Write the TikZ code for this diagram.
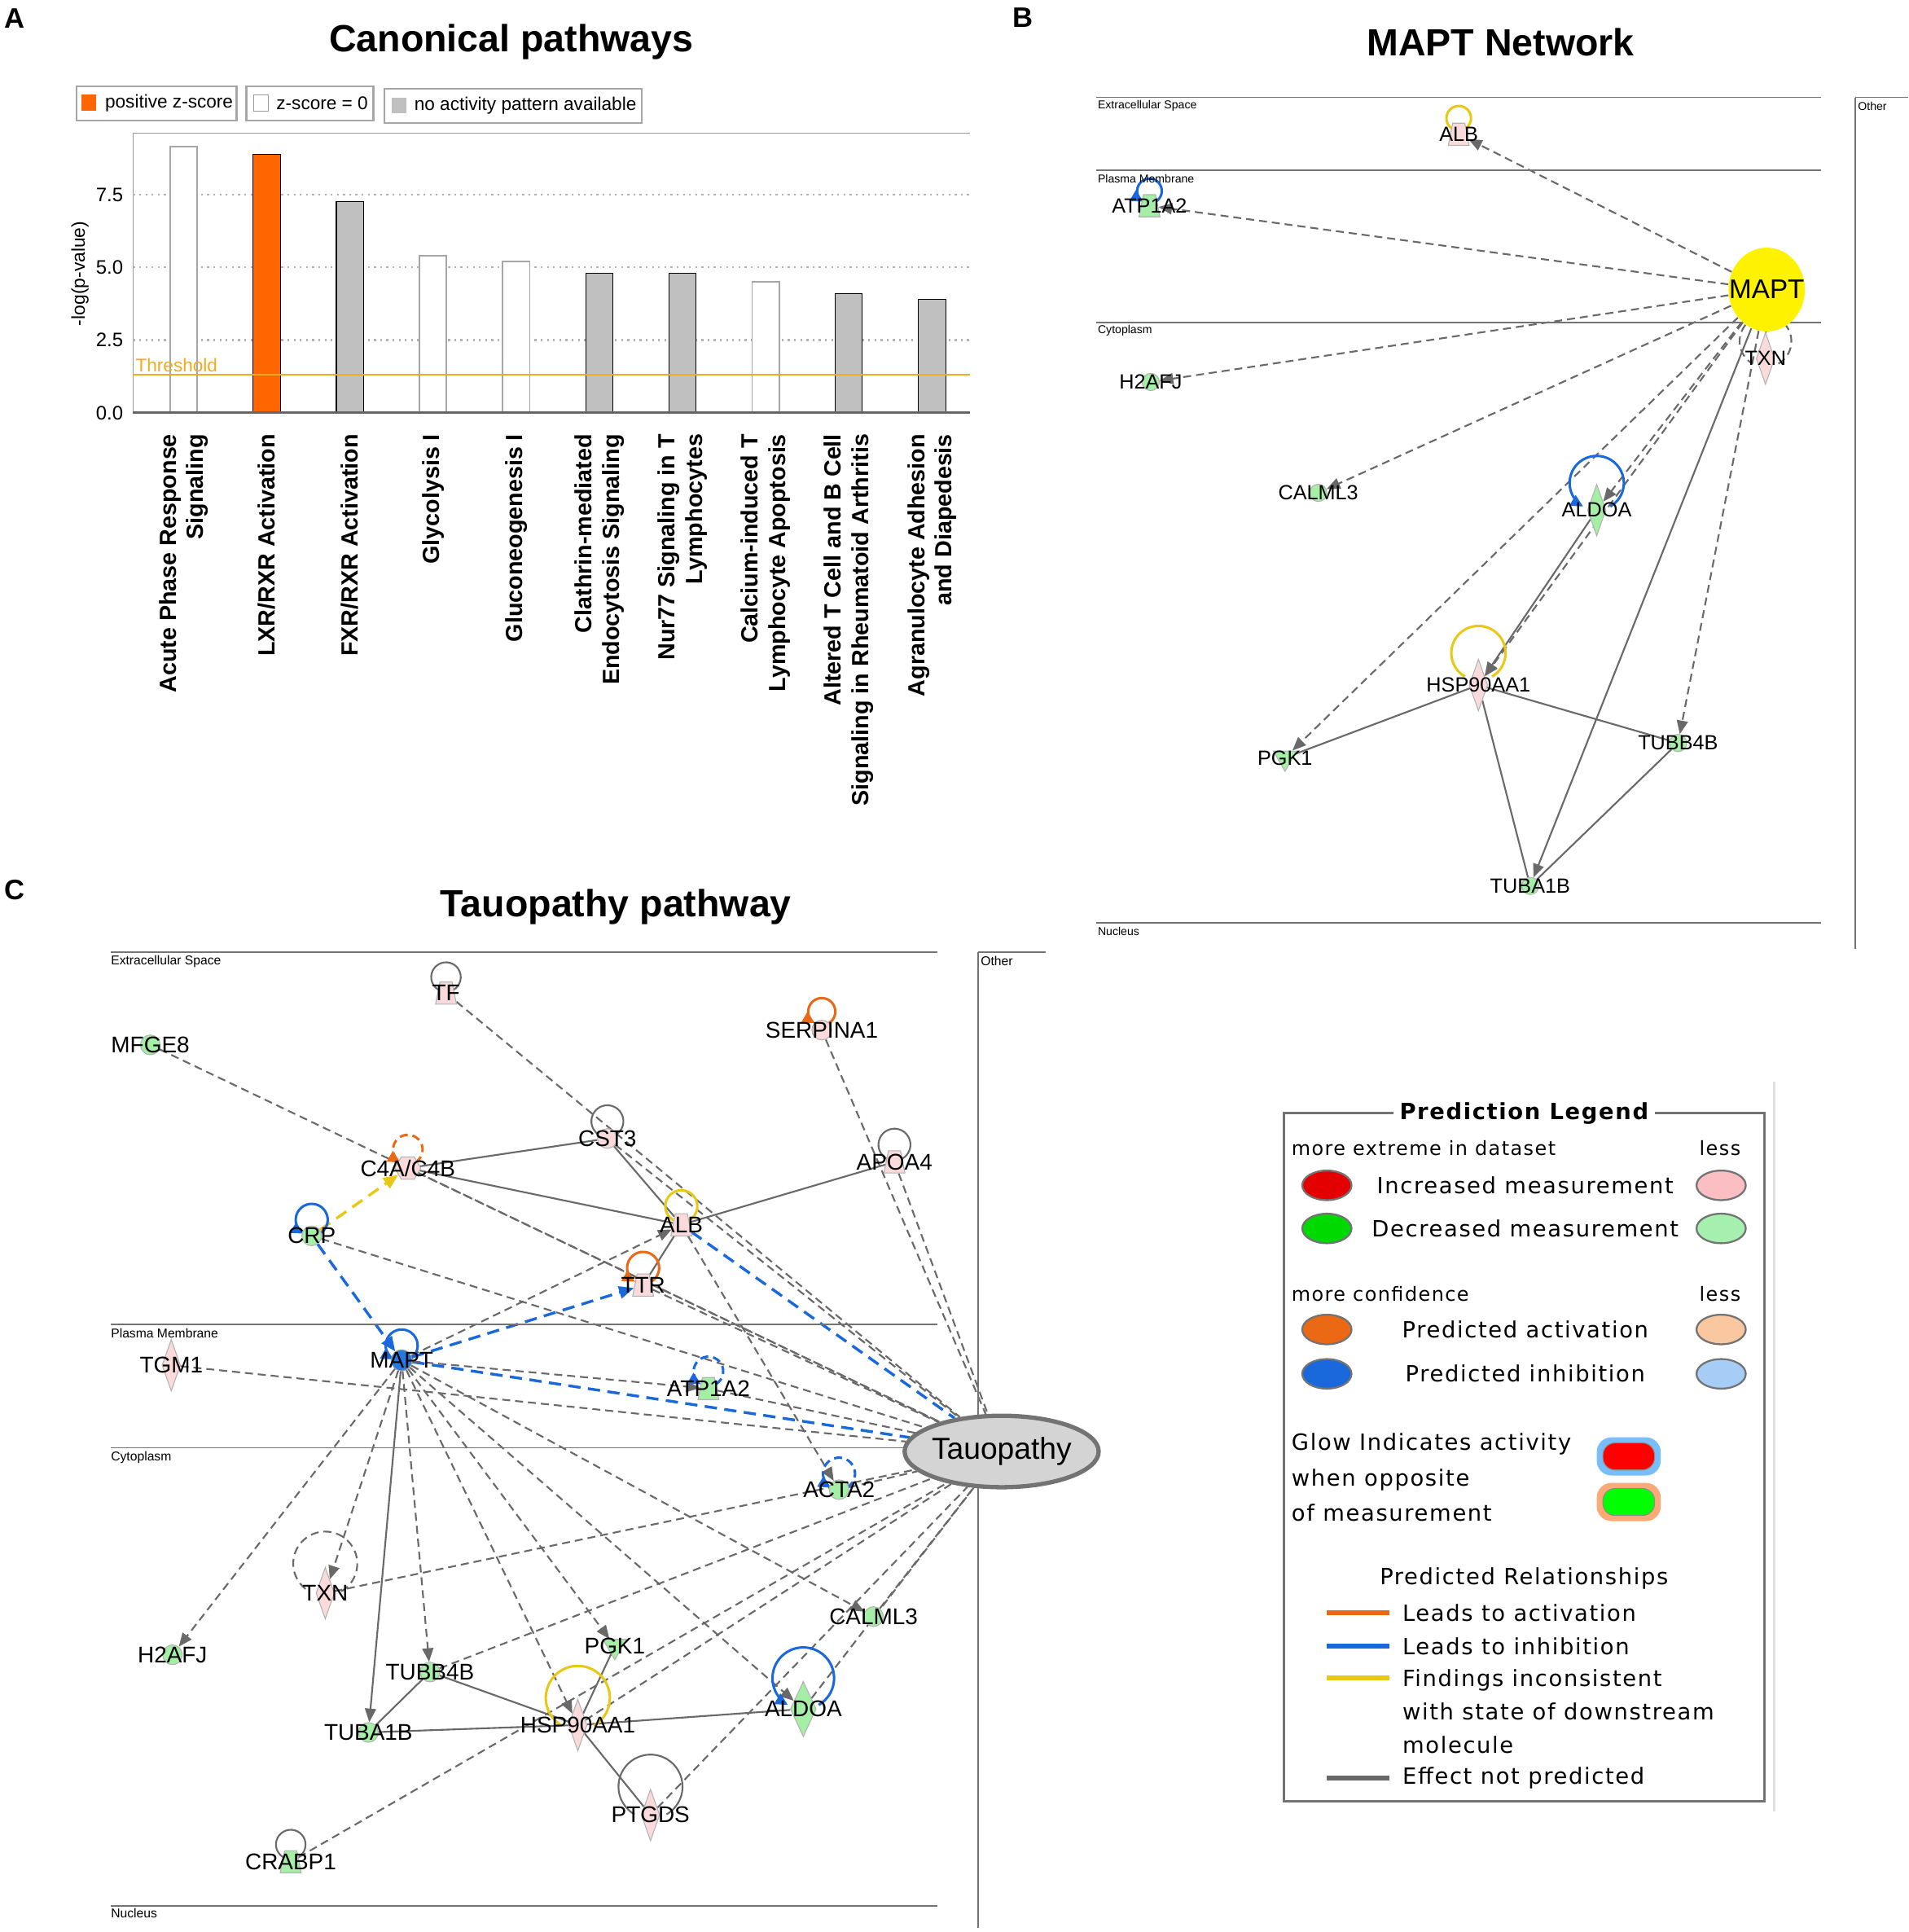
\documentclass[tikz,border=0pt]{standalone}
\usepackage{fontspec}
\setmainfont{Liberation Sans}
\newfontfamily\legendfont[LetterSpace=6]{DejaVu Sans}
\usetikzlibrary{arrows.meta,shapes.geometric,positioning,backgrounds}

\definecolor{zpos}{RGB}{255,102,0}
\definecolor{nopat}{RGB}{192,192,192}
\definecolor{thresh}{RGB}{242,170,30}
\definecolor{relgrey}{RGB}{105,105,105}
\definecolor{inhblue}{RGB}{25,105,220}
\definecolor{actorange}{RGB}{235,105,20}
\definecolor{incons}{RGB}{232,200,20}
\definecolor{uppink}{RGB}{250,218,218}
\definecolor{dngreen}{RGB}{165,238,165}
\definecolor{maptyellow}{RGB}{255,242,0}
\definecolor{mapblue}{RGB}{40,120,225}
\definecolor{glowblue}{RGB}{120,190,250}
\definecolor{gloworange}{RGB}{250,170,120}
\definecolor{lessred}{RGB}{250,190,195}
\definecolor{lessgreen}{RGB}{165,240,175}
\definecolor{lessorange}{RGB}{250,200,160}
\definecolor{lessblue}{RGB}{165,205,245}

\begin{document}
\begin{tikzpicture}[x=0.2mm,y=-0.2mm,
    panelletter/.style={font=\fontsize{13}{15}\selectfont\bfseries},
    paneltitle/.style={font=\fontsize{17.5}{20}\selectfont\bfseries},
    keybox/.style={draw=black!35, line width=0.3mm},
    keytext/.style={anchor=west, font=\fontsize{8.5}{10}\selectfont, inner sep=0pt},
    wbar/.style={draw=black!35, fill=white, line width=0.25mm},
    obar/.style={fill=zpos},
    gbar/.style={fill=nopat},
    xlab/.style={rotate=90, anchor=east, align=right, inner sep=0pt,
      font=\fontsize{10.8}{12.6}\selectfont\bfseries},
    ytick/.style={anchor=east, font=\fontsize{9}{10}\selectfont, inner sep=1pt},
    comp/.style={draw=black!55, line width=0.25mm},
    comptext/.style={anchor=west, font=\fontsize{5.9}{6.5}\selectfont, inner sep=1pt},
    gname/.style={inner sep=0pt, font=\fontsize{10.5}{12}\selectfont},
    circdn/.style={circle, draw=black!30, fill=dngreen, inner sep=0pt, minimum size=3.2mm},
    circup/.style={circle, draw=black!30, fill=uppink, inner sep=0pt, minimum size=3.2mm},
    diadn/.style={diamond, draw=black!30, fill=dngreen, inner sep=0pt,
      minimum width=3mm, minimum height=8.4mm},
    diaup/.style={diamond, draw=black!30, fill=uppink, inner sep=0pt,
      minimum width=3mm, minimum height=8.4mm},
    trapdn/.style={trapezium, trapezium angle=70, trapezium stretches=true,
      draw=black!30, fill=dngreen, inner sep=0.5pt, minimum width=3.4mm, minimum height=3.6mm},
    trapup/.style={trapezium, trapezium angle=70, trapezium stretches=true,
      draw=black!30, fill=uppink, inner sep=0.5pt, minimum width=3.4mm, minimum height=3.6mm},
    kindn/.style={regular polygon, regular polygon sides=3, shape border rotate=180,
      draw=black!30, fill=dngreen, inner sep=0.5pt, minimum size=4.4mm},
    cplxup/.style={regular polygon, regular polygon sides=6,
      draw=black!30, fill=uppink, inner sep=0.5pt, minimum size=4.2mm},
    mapinh/.style={circle, draw=black!40, fill=mapblue, inner sep=0pt, minimum size=3.4mm},
    tauo/.style={ellipse, draw=black!55, line width=0.7mm, fill=black!17, inner sep=0pt,
      minimum width=31.5mm, minimum height=11.6mm},
    rel/.style={draw=relgrey, line width=0.28mm, dash pattern=on 1.3mm off 0.8mm},
    relto/.style={rel, -{Triangle[length=2.2mm,width=1.8mm]}},
    sol/.style={draw=relgrey, line width=0.28mm},
    solto/.style={sol, -{Triangle[length=2.2mm,width=1.8mm]}},
    inh/.style={draw=inhblue, line width=0.45mm, dash pattern=on 2mm off 1.2mm},
    inhto/.style={inh, -{Triangle[length=2.4mm,width=2mm]}},
    incto/.style={draw=incons, line width=0.45mm, dash pattern=on 2mm off 1.2mm,
      -{Triangle[length=2.4mm,width=2mm]}},
    lpgrey/.style={draw=relgrey, line width=0.28mm},
    lpgreyd/.style={lpgrey, dash pattern=on 1.3mm off 0.8mm},
    lpyel/.style={draw=incons, line width=0.4mm},
    lpblue/.style={draw=inhblue, line width=0.4mm, -{Triangle[length=2mm,width=1.9mm]}},
    lpblued/.style={lpblue, dash pattern=on 1.3mm off 0.8mm},
    lporange/.style={draw=actorange, line width=0.4mm, -{Triangle[length=2mm,width=1.9mm]}},
    lporanged/.style={lporange, dash pattern=on 1.3mm off 0.8mm},
    legtext/.style={font=\fontsize{10.3}{16.5}\legendfont, inner sep=0pt},
    legsmall/.style={font=\fontsize{9}{11}\legendfont, inner sep=0pt},
    legoval/.style={ellipse, draw=black!55, line width=0.3mm, minimum width=8mm, minimum height=4.8mm}]

\useasboundingbox (0,0) rectangle (1549,1568);

% ---------------- A: canonical pathways
\node[panelletter] (la) at (12,15) {A};
\node[paneltitle] (ta) at (415,34) {Canonical pathways};

\draw[keybox] (62,70) rectangle (192,98);
\fill[zpos] (66,77) rectangle (78,90);
\node[keytext] (kpos) at (85,84) {positive z-score};
\draw[keybox] (200,70) rectangle (303,98);
\draw[black!40, fill=white] (206,77) rectangle (218,90);
\node[keytext] (kzero) at (224,84) {z-score = 0};
\draw[keybox] (312,72) rectangle (521,100);
\fill[nopat] (318,79) rectangle (330,92);
\node[keytext] (knone) at (336,86) {no activity pattern available};

\draw[black!40] (108,108) -- (787,108);
\draw[black!40] (108,108) -- (108,335);
\foreach \v in {2.5,5,7.5}
  \draw[black!30, dotted, line width=0.3mm] (108,{335-23.6*\v}) -- (787,{335-23.6*\v});
\foreach \v/\s [count=\n] in {0/0.0,2.5/2.5,5/5.0,7.5/7.5}
  \node[ytick] (yt\n) at (102,{335-23.6*\v}) {\s};
\node[rotate=90, font=\fontsize{8.6}{10}\selectfont] (ylab) at (65,222) {-log(p-value)};

\foreach \i/\v/\k in {0/9.15/wbar,1/8.9/obar,2/7.25/gbar,3/5.4/wbar,4/5.2/wbar,
                       5/4.8/gbar,6/4.8/gbar,7/4.5/wbar,8/4.1/gbar,9/3.9/gbar}
  \draw[\k] ({149+67.5*\i-11},335) rectangle ({149+67.5*\i+11},{335-23.6*\v});

\draw[black!60, line width=0.35mm] (108,335) -- (787,335);
\draw[thresh, line width=0.3mm] (108,304) -- (787,304);
\node[anchor=south west, text=thresh, inner sep=1pt, font=\fontsize{8.5}{10}\selectfont] (thr) at (108,304) {Threshold};

\foreach \i/\t in {0/{Acute Phase Response\\Signaling},1/{LXR/RXR Activation},
    2/{FXR/RXR Activation},3/{Glycolysis I},4/{Gluconeogenesis I},
    5/{Clathrin-mediated\\Endocytosis Signaling},6/{Nur77 Signaling in T\\Lymphocytes},
    7/{Calcium-induced T\\Lymphocyte Apoptosis},
    8/{Altered T Cell and B Cell\\Signaling in Rheumatoid Arthritis},
    9/{Agranulocyte Adhesion\\and Diapedesis}}
  \node[xlab] (xl\i) at ({149+67.5*\i},352) {\t};

% ---------------- B: MAPT network
\node[panelletter] (lb) at (830,14) {B};
\node[paneltitle] (tb) at (1218,34) {MAPT Network};

\draw[comp] (890,79) -- (1478,79);
\draw[comp] (890,138) -- (1478,138);
\draw[comp] (890,262) -- (1478,262);
\draw[comp] (890,749) -- (1478,749);
\draw[comp] (1506,79) -- (1549,79);
\draw[comp] (1506,79) -- (1506,770);
\begin{scope}[comptext/.append style={font=\fontsize{5.3}{6}\selectfont}]
  \node[comptext] (bextra) at (889,86) {Extracellular Space};
  \node[comptext] (bplasma) at (889,145) {Plasma Membrane};
  \node[comptext] (bcyto) at (889,268) {Cytoplasm};
  \node[comptext] (bnuc) at (889,756) {Nucleus};
  \node[comptext] (bother) at (1506,86) {Other};
\end{scope}

\begin{scope}[gname/.append style={font=\fontsize{9.5}{11}\selectfont},
    circdn/.append style={minimum size=2.8mm}]
  \node[trapup] (balb) at (1184,109) {};      \node[gname] (balb-t) at (balb) {ALB};
  \node[trapdn] (batp) at (933,167) {};       \node[gname] (batp-t) at (batp) {ATP1A2};
  \node[ellipse, fill=maptyellow, inner sep=0pt, minimum width=12.4mm, minimum height=13.6mm] (bmapt) at (1434,235) {};
  \node[gname, font=\fontsize{12.5}{14}\selectfont] (bmapt-t) at (bmapt) {MAPT};
  \node[diaup] (btxn) at (1433,291) {};       \node[gname] (btxn-t) at (btxn) {TXN};
  \node[circdn] (bh2afj) at (934,310) {};     \node[gname] (bh2afj-t) at (bh2afj) {H2AFJ};
  \node[circdn] (bcalml) at (1070,400) {};    \node[gname] (bcalml-t) at (bcalml) {CALML3};
  \node[diadn] (baldoa) at (1296,414) {};     \node[gname] (baldoa-t) at (baldoa) {ALDOA};
  \node[diaup] (bhsp) at (1200,556) {};       \node[gname] (bhsp-t) at (bhsp) {HSP90AA1};
  \node[kindn] (bpgk) at (1043,615) {};       \node[gname] (bpgk-t) at (bpgk) {PGK1};
  \node[circdn] (btubb) at (1362,603) {};     \node[gname] (btubb-t) at (btubb) {TUBB4B};
  \node[circdn] (btuba) at (1242,719) {};     \node[gname] (btuba-t) at (btuba) {TUBA1B};
\end{scope}

\begin{scope}[on background layer]
  \foreach \g in {balb,batp,bh2afj,bcalml,baldoa,bhsp,bpgk,btubb,btxn}
    \draw[relto] (bmapt) -- (\g);
  \draw[solto] (bmapt) -- (btuba);
  \draw[solto] (baldoa) -- (bhsp);
  \draw[sol] (bhsp) -- (bpgk);
  \draw[sol] (bhsp) -- (btubb);
  \draw[sol] (bhsp) -- (btuba);
  \draw[sol] (btubb) -- (btuba);
  % self loops
  \draw[lpyel] (balb) ++(0,-13) ++(60:10) arc[start angle=60, end angle=-240, radius=10];
  \draw[lpblue] (batp) ++(0,-12) ++(60:10) arc[start angle=60, end angle=-240, radius=10];
  \draw[lpgreyd] (btxn) ++(0,-14) ++(60:21) arc[start angle=60, end angle=-240, radius=21];
  \draw[lpblue] (baldoa) ++(0,-22) ++(60:22) arc[start angle=60, end angle=-240, radius=22];
  \draw[lpyel] (bhsp) ++(0,-26) ++(60:22) arc[start angle=60, end angle=-240, radius=22];
\end{scope}

% ---------------- C: tauopathy pathway
\node[panelletter] (lc) at (12,722) {C};
\node[paneltitle] (tc) at (500,736) {Tauopathy pathway};

\draw[comp] (90,773) -- (761,773);
\draw[comp] (90,1075) -- (761,1075);
\draw[comp] (90,1175) -- (761,1175);
\draw[comp] (90,1547) -- (761,1547);
\draw[comp] (794,773) -- (849,773);
\draw[comp] (794,773) -- (794,1565);
\node[comptext] (cextra) at (88,780) {Extracellular Space};
\node[comptext] (cplasma) at (88,1082) {Plasma Membrane};
\node[comptext] (ccyto) at (88,1183) {Cytoplasm};
\node[comptext] (cnuc) at (88,1553) {Nucleus};
\node[comptext] (cother) at (794,780) {Other};

\node[trapup] (ctf) at (362,806) {};        \node[gname] (ctf-t) at (ctf) {TF};
\node[circdn] (cmfge) at (122,848) {};      \node[gname] (cmfge-t) at (cmfge) {MFGE8};
\node[circup] (cserp) at (667,836) {};      \node[gname] (cserp-t) at (cserp) {SERPINA1};
\node[circup] (ccst) at (493,924) {};       \node[gname] (ccst-t) at (ccst) {CST3};
\node[cplxup] (cc4) at (331,948) {};        \node[gname] (cc4-t) at (cc4) {C4A/C4B};
\node[trapup] (capoa) at (726,943) {};      \node[gname] (capoa-t) at (capoa) {APOA4};
\node[trapup] (calb) at (553,994) {};       \node[gname] (calb-t) at (calb) {ALB};
\node[circdn] (ccrp) at (253,1003) {};      \node[gname] (ccrp-t) at (ccrp) {CRP};
\node[trapup] (cttr) at (522,1043) {};      \node[gname] (cttr-t) at (cttr) {TTR};
\node[mapinh] (cmapt) at (326,1104) {};     \node[gname] (cmapt-t) at (cmapt) {MAPT};
\node[diaup] (ctgm) at (139,1108) {};       \node[gname] (ctgm-t) at (ctgm) {TGM1};
\node[trapdn] (catp) at (575,1127) {};      \node[gname] (catp-t) at (catp) {ATP1A2};
\node[tauo] (ctau) at (813,1178) {};
\node[gname, font=\fontsize{14}{16}\selectfont] (ctau-t) at (ctau) {Tauopathy};
\node[circdn] (cacta) at (681,1209) {};     \node[gname] (cacta-t) at (cacta) {ACTA2};
\node[diaup] (ctxn) at (264,1293) {};       \node[gname] (ctxn-t) at (ctxn) {TXN};
\node[circdn] (ccalml) at (709,1312) {};    \node[gname] (ccalml-t) at (ccalml) {CALML3};
\node[circdn] (ch2afj) at (140,1343) {};    \node[gname] (ch2afj-t) at (ch2afj) {H2AFJ};
\node[kindn] (cpgk) at (499,1336) {};       \node[gname] (cpgk-t) at (cpgk) {PGK1};
\node[circdn] (ctubb) at (349,1357) {};     \node[gname] (ctubb-t) at (ctubb) {TUBB4B};
\node[diadn, minimum width=4.2mm, minimum height=9mm] (caldoa) at (652,1387) {};
\node[gname] (caldoa-t) at (caldoa) {ALDOA};
\node[circdn] (ctuba) at (299,1406) {};     \node[gname] (ctuba-t) at (ctuba) {TUBA1B};
\node[diaup] (chsp) at (469,1400) {};       \node[gname] (chsp-t) at (chsp) {HSP90AA1};
\node[diaup] (cptgds) at (528,1473) {};     \node[gname] (cptgds-t) at (cptgds) {PTGDS};
\node[trapdn] (ccrabp) at (236,1511) {};    \node[gname] (ccrabp-t) at (ccrabp) {CRABP1};

\begin{scope}[on background layer]
  \foreach \g in {ctf,cmfge,cserp,ccst,cc4,capoa,ccrp,cttr,ctgm,catp,cacta,ctxn,
                  ccalml,ctubb,chsp,cptgds,ccrabp,caldoa}
    \draw[rel] (\g) -- (ctau);
  \draw[inh] (calb) -- (ctau);
  \draw[inh] (cmapt) -- (ctau);
  \draw[inhto] (ccrp) -- (cmapt);
  \draw[inhto] (cmapt) -- (cttr);
  \draw[incto] (ccrp) -- (cc4);
  \foreach \g in {calb,catp,ctxn,ch2afj,ctubb,cpgk,chsp,caldoa,ccalml}
    \draw[relto] (cmapt) -- (\g);
  \draw[solto] (cmapt) -- (ctuba);
  \draw[relto] (calb) -- (cacta);
  \draw[sol] (ccst) -- (cc4);
  \draw[sol] (ccst) -- (calb);
  \draw[sol] (cc4) -- (calb);
  \draw[sol] (capoa) -- (calb);
  \draw[sol] (calb) -- (cttr);
  \draw[sol] (ctubb) -- (ctuba);
  \draw[sol] (ctubb) -- (chsp);
  \draw[sol] (ctuba) -- (chsp);
  \draw[sol] (chsp) -- (cpgk);
  \draw[sol] (chsp) -- (caldoa);
  \draw[sol] (chsp) -- (cptgds);
  % self loops
  \draw[lpgrey] (ctf) ++(0,-13) ++(60:12) arc[start angle=60, end angle=-240, radius=12];
  \draw[lporange] (cserp) ++(0,-15) ++(60:11) arc[start angle=60, end angle=-240, radius=11];
  \draw[lpgrey] (ccst) ++(0,-14) ++(60:13) arc[start angle=60, end angle=-240, radius=13];
  \draw[lporanged] (cc4) ++(0,-15) ++(60:12) arc[start angle=60, end angle=-240, radius=12];
  \draw[lpgrey] (capoa) ++(0,-14) ++(60:13) arc[start angle=60, end angle=-240, radius=13];
  \draw[lpyel] (calb) ++(0,-15) ++(60:13) arc[start angle=60, end angle=-240, radius=13];
  \draw[lpblue] (ccrp) ++(0,-13) ++(60:13) arc[start angle=60, end angle=-240, radius=13];
  \draw[lporange] (cttr) ++(0,-14) ++(60:13) arc[start angle=60, end angle=-240, radius=13];
  \draw[lpblue] (cmapt) ++(0,-12) ++(60:13) arc[start angle=60, end angle=-240, radius=13];
  \draw[lpblued] (catp) ++(0,-14) ++(60:12) arc[start angle=60, end angle=-240, radius=12];
  \draw[lpblued] (cacta) ++(0,-13) ++(60:13) arc[start angle=60, end angle=-240, radius=13];
  \draw[lpgreyd] (ctxn) ++(0,-24) ++(60:26) arc[start angle=60, end angle=-240, radius=26];
  \draw[lpblue] (caldoa) ++(0,-25) ++(60:25) arc[start angle=60, end angle=-240, radius=25];
  \draw[lpyel] (chsp) ++(0,-22) ++(60:26) arc[start angle=60, end angle=-240, radius=26];
  \draw[lpgrey] (cptgds) ++(0,-23) ++(60:26) arc[start angle=60, end angle=-240, radius=26];
  \draw[lpgrey] (ccrabp) ++(0,-14) ++(60:12) arc[start angle=60, end angle=-240, radius=12];
\end{scope}

% ---------------- prediction legend
\draw[black!12, line width=0.4mm] (1440,878) -- (1440,1470);
\draw[black!55, line width=0.4mm] (1042,903) rectangle (1432,1462);
\node[fill=white, inner xsep=3pt, inner ysep=1pt, font=\fontsize{10.3}{12}\legendfont\bfseries] (lgtitle) at (1237,904) {Prediction Legend};

\node[legsmall, anchor=west] (lgmore) at (1048,932) {more extreme in dataset};
\node[legsmall, anchor=west] (lgless) at (1379,932) {less};
\node[legoval, fill=red!90!black] (lgup) at (1077,962) {};
\node[legtext] (lgupt) at (1238,962) {Increased measurement};
\node[legoval, fill=lessred] (lguplo) at (1397,962) {};
\node[legoval, fill=green!85!black] (lgdn) at (1077,997) {};
\node[legtext] (lgdnt) at (1238,997) {Decreased measurement};
\node[legoval, fill=lessgreen] (lgdnlo) at (1397,997) {};

\node[legsmall, anchor=west] (lgconf) at (1048,1050) {more confidence};
\node[legsmall, anchor=west] (lgless2) at (1379,1050) {less};
\node[legoval, fill=actorange] (lgact) at (1077,1079) {};
\node[legtext] (lgactt) at (1238,1079) {Predicted activation};
\node[legoval, fill=lessorange] (lgactlo) at (1397,1079) {};
\node[legoval, fill=inhblue] (lginh) at (1077,1115) {};
\node[legtext] (lginht) at (1238,1115) {Predicted inhibition};
\node[legoval, fill=lessblue] (lginhlo) at (1397,1115) {};

\node[legtext, anchor=west, align=left] (lgglow) at (1048,1199) {Glow Indicates activity\\when opposite\\of measurement};
\node[rounded corners=2.4mm, fill=glowblue, minimum width=10.4mm, minimum height=6.2mm] (lgglowb) at (1322,1182) {};
\node[rounded corners=2mm, fill=red, draw=black!45, minimum width=8.4mm, minimum height=4.4mm] (lgglowr) at (1322,1182) {};
\node[rounded corners=2.4mm, fill=gloworange, minimum width=10.4mm, minimum height=6.2mm] (lgglowo) at (1322,1219) {};
\node[rounded corners=2mm, fill=green, draw=black!45, minimum width=8.4mm, minimum height=4.4mm] (lgglowg) at (1322,1219) {};

\node[legtext] (lgrel) at (1237,1281) {Predicted Relationships};
\coordinate (ra1) at (1077,1309); \coordinate (ra2) at (1128,1309);
\coordinate (rb1) at (1077,1336); \coordinate (rb2) at (1128,1336);
\coordinate (rc1) at (1077,1362); \coordinate (rc2) at (1128,1362);
\coordinate (rd1) at (1077,1443); \coordinate (rd2) at (1128,1443);
\draw[actorange, line width=0.8mm] (ra1) -- (ra2);
\draw[inhblue, line width=0.8mm] (rb1) -- (rb2);
\draw[incons, line width=0.8mm] (rc1) -- (rc2);
\draw[relgrey, line width=0.8mm] (rd1) -- (rd2);
\node[legtext, anchor=west] (lgra) at (1138,1309) {Leads to activation};
\node[legtext, anchor=west] (lgrb) at (1138,1336) {Leads to inhibition};
\node[legtext, anchor=west, align=left, font=\fontsize{10.3}{15.4}\legendfont] (lgrc) at (1138,1389) {Findings inconsistent\\with state of downstream\\molecule};
\node[legtext, anchor=west] (lgrd) at (1138,1443) {Effect not predicted};

\end{tikzpicture}
\end{document}
